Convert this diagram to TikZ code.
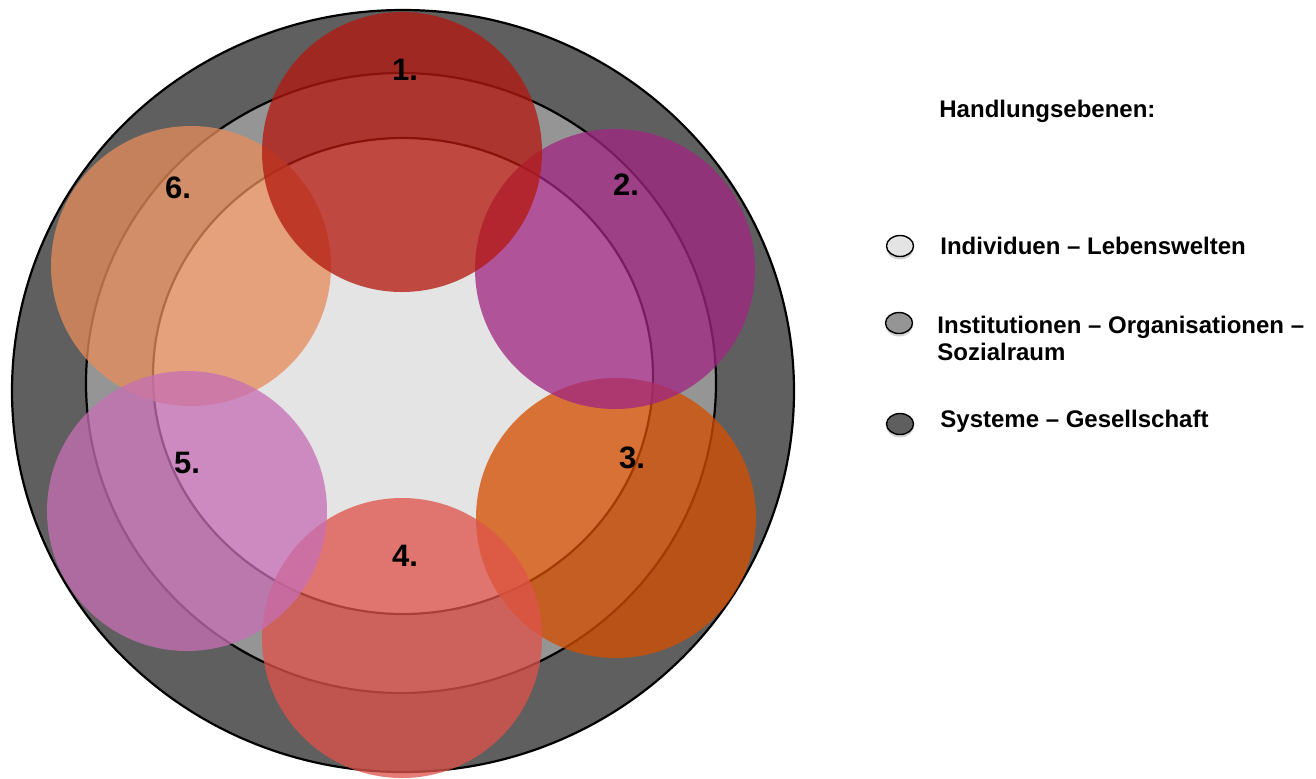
\documentclass[tikz,border=0pt]{standalone}
\usepackage{fontspec}
\setmainfont{Liberation Sans}
\usetikzlibrary{shapes.geometric,shadows}
\definecolor{ringdark}{RGB}{95,95,95}
\definecolor{ringmid}{RGB}{149,149,149}
\definecolor{ringlight}{RGB}{228,228,228}
\definecolor{fieldone}{RGB}{180,25,15}
\definecolor{fieldtwo}{RGB}{160,38,129}
\definecolor{fieldthree}{RGB}{212,78,0}
\definecolor{fieldfour}{RGB}{223,83,75}
\definecolor{fieldfive}{RGB}{198,111,181}
\definecolor{fieldsix}{RGB}{229,141,90}
\tikzset{
  ring/.style={fill=#1,draw=black,line width=1.1pt},
  field/.style={fill=#1,fill opacity=0.76,draw=none},
  num/.style={font=\fontsize{15.5}{17}\selectfont\bfseries},
  legtext/.style={anchor=west,align=left,inner sep=0pt,font=\fontsize{12}{13.5}\selectfont\bfseries},
  legdot/.style={ellipse,draw=black,line width=0.7pt,fill=#1,minimum width=13.5pt,minimum height=10.5pt,inner sep=0pt,
    drop shadow={shadow xshift=0pt,shadow yshift=-1.5pt,opacity=0.35}}
}
\begin{document}
\begin{tikzpicture}[x=0.5pt,y=-0.5pt]
\useasboundingbox (0,0) rectangle (1316,778);
% Ebenen
\filldraw[ring=ringdark] (403,391) ellipse (391 and 381);
\filldraw[ring=ringmid] (401,383) ellipse (315 and 310);
\filldraw[ring=ringlight] (403,376) ellipse (250 and 238);
% Handlungsfelder
\fill[field=fieldthree] (616,518) circle (140);
\fill[field=fieldtwo] (615,269) circle (140);
\fill[field=fieldsix] (191,266) circle (140);
\fill[field=fieldone] (402,152) circle (140);
\fill[field=fieldfour] (402,638) circle (140);
\fill[field=fieldfive] (187,511) circle (140);
\node[num] (lblone) at (405,70) {1.};
\node[num] (lbltwo) at (626,185) {2.};
\node[num] (lblthree) at (632,458) {3.};
\node[num] (lblfour) at (405,556) {4.};
\node[num] (lblfive) at (187,463) {5.};
\node[num] (lblsix) at (178,188) {6.};
% Legende
\node[legtext] (legtitle) at (939,111) {Handlungsebenen:};
\node[legdot=ringlight] (dotone) at (900,246) {};
\node[legdot=ringmid] (dottwo) at (899,323) {};
\node[legdot=ringdark] (dotthree) at (900,424) {};
\node[legtext] (legone) at (940,246) {Individuen – Lebenswelten};
\node[legtext] (legtwo) at (937,338) {Institutionen – Organisationen –\\Sozialraum};
\node[legtext] (legthree) at (940,421) {Systeme – Gesellschaft};
\end{tikzpicture}
\end{document}
